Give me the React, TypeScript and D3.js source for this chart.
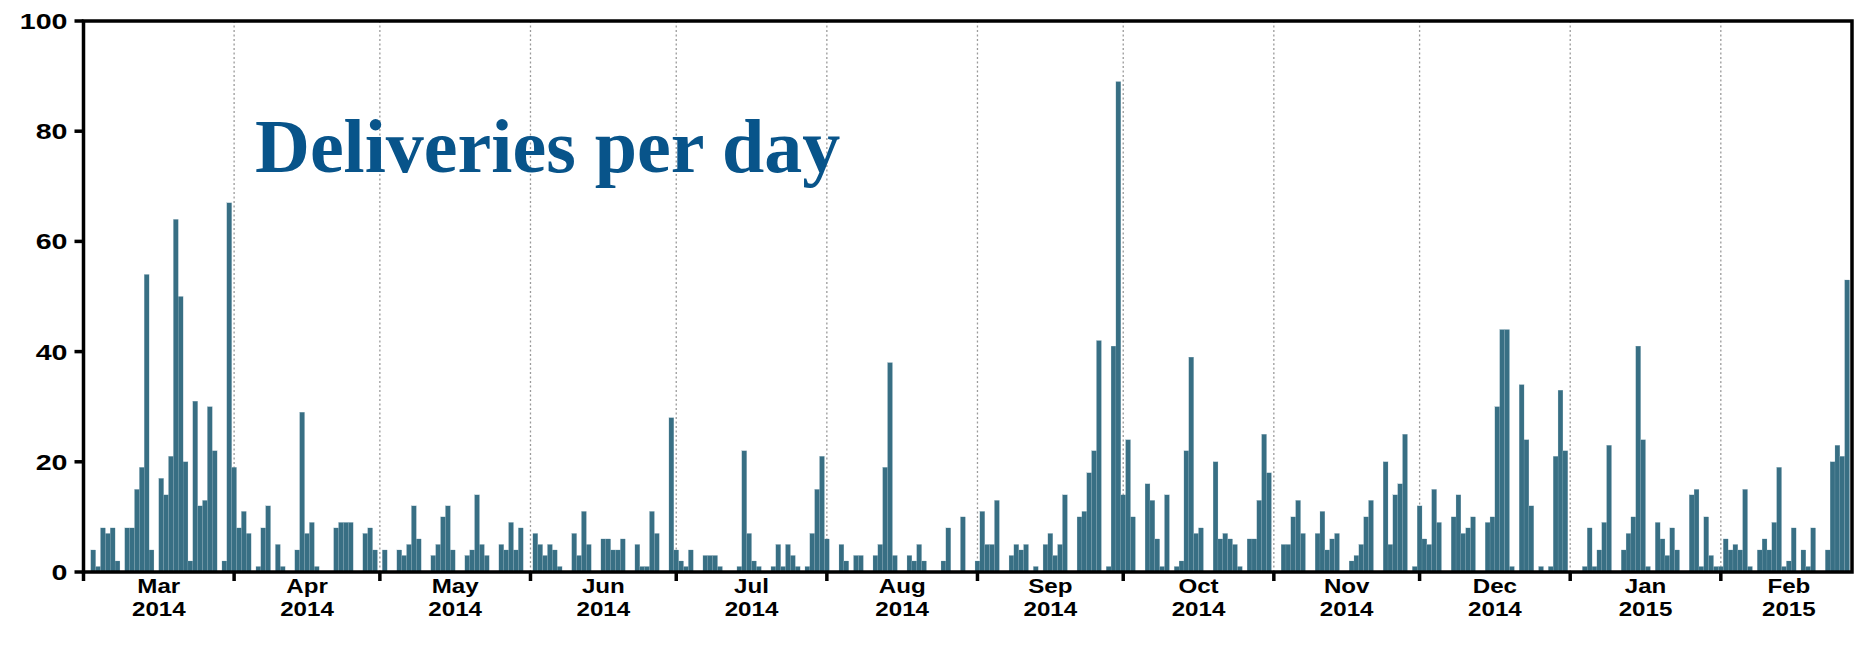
import React, { useRef, useEffect } from "react";
import * as d3 from "d3";

// deliveries per day, one array per month (Mar 2014 .. Feb 2015)
const mar2014 = [0, 0, 4, 1, 8, 7, 8, 2, 0, 8, 8, 15, 19, 54, 4, 0, 17, 14, 21, 64, 50, 20, 2, 31, 12, 13, 30, 22, 0, 2, 67];
const apr2014 = [19, 8, 11, 7, 0, 1, 8, 12, 0, 5, 1, 0, 0, 4, 29, 7, 9, 1, 0, 0, 0, 8, 9, 9, 9, 0, 0, 7, 8, 4];
const may2014 = [0, 4, 0, 0, 4, 3, 5, 12, 6, 0, 0, 3, 5, 10, 12, 4, 0, 0, 3, 4, 14, 5, 3, 0, 0, 5, 4, 9, 4, 8, 0];
const jun2014 = [0, 7, 5, 3, 5, 4, 1, 0, 0, 7, 3, 11, 5, 0, 0, 6, 6, 4, 4, 6, 0, 0, 5, 1, 1, 11, 7, 0, 0, 28];
const jul2014 = [4, 2, 1, 4, 0, 0, 3, 3, 3, 1, 0, 0, 0, 1, 22, 7, 2, 1, 0, 0, 1, 5, 1, 5, 3, 1, 0, 1, 7, 15, 21];
const aug2014 = [6, 0, 0, 5, 2, 0, 3, 3, 0, 0, 3, 5, 19, 38, 3, 0, 0, 3, 2, 5, 2, 0, 0, 0, 2, 8, 0, 0, 10, 0, 0];
const sep2014 = [2, 11, 5, 5, 13, 0, 0, 3, 5, 4, 5, 0, 1, 0, 5, 7, 3, 5, 14, 0, 0, 10, 11, 18, 22, 42, 0, 1, 41, 89];
const oct2014 = [14, 24, 10, 0, 0, 16, 13, 6, 1, 14, 0, 1, 2, 22, 39, 7, 8, 0, 0, 20, 6, 7, 6, 5, 1, 0, 6, 6, 13, 25, 18];
const nov2014 = [0, 0, 5, 5, 10, 13, 7, 0, 0, 7, 11, 4, 6, 7, 0, 0, 2, 3, 5, 10, 13, 0, 0, 20, 5, 14, 16, 25, 0, 1];
const dec2014 = [12, 6, 5, 15, 9, 0, 0, 10, 14, 7, 8, 10, 0, 0, 9, 10, 30, 44, 44, 1, 0, 34, 24, 12, 0, 1, 0, 1, 21, 33, 22];
const jan2015 = [0, 0, 0, 1, 8, 1, 4, 9, 23, 0, 0, 4, 7, 10, 41, 24, 1, 0, 9, 6, 3, 8, 4, 0, 0, 14, 15, 1, 10, 3, 1];
const feb2015 = [1, 6, 4, 5, 4, 15, 1, 0, 4, 6, 4, 9, 19, 1, 2, 8, 0, 4, 1, 8, 0, 0, 4, 20, 23, 21, 53];

const monthNames = ["Mar", "Apr", "May", "Jun", "Jul", "Aug", "Sep", "Oct", "Nov", "Dec", "Jan", "Feb"];
const monthYears = ["2014", "2014", "2014", "2014", "2014", "2014", "2014", "2014", "2014", "2014", "2015", "2015"];
const yTicks = [0, 20, 40, 60, 80, 100];
const title = "Deliveries per day";

const months = [mar2014, apr2014, may2014, jun2014, jul2014, aug2014, sep2014, oct2014, nov2014, dec2014, jan2015, feb2015];

const App = () => {
  const svgRef = useRef(null);

  useEffect(() => {
    const svg = d3.select(svgRef.current);
    svg.selectAll("*").remove();
    const width = 1860;
    const height = 647;
    const margin = { top: 21, right: 8, bottom: 75, left: 83.5 };
    const font = "'Liberation Sans', Arial, sans-serif";

    const start = new Date(Date.UTC(2014, 2, 1));
    const end = new Date(Date.UTC(2015, 1, 28));

    const data = [];
    months.forEach((vals, i) => {
      const m0 = d3.utcMonth.offset(start, i);
      vals.forEach((v, j) => data.push({ date: d3.utcDay.offset(m0, j), count: v }));
    });

    const x = d3.scaleUtc().domain([start, end]).range([margin.left, width - margin.right]);
    const y = d3.scaleLinear().domain([0, 100]).range([height - margin.bottom, margin.top]);
    const dayW = x(d3.utcDay.offset(start, 1)) - x(start);

    svg
      .append("defs")
      .append("clipPath")
      .attr("id", "plotClip")
      .append("rect")
      .attr("x", margin.left)
      .attr("y", margin.top)
      .attr("width", width - margin.left - margin.right)
      .attr("height", height - margin.top - margin.bottom);

    // dotted month gridlines
    const monthStarts = d3.utcMonth.range(d3.utcMonth.offset(start, 1), end);
    svg
      .append("g")
      .selectAll("line")
      .data(monthStarts)
      .enter()
      .append("line")
      .attr("x1", (d) => x(d))
      .attr("x2", (d) => x(d))
      .attr("y1", y(100))
      .attr("y2", y(0))
      .attr("stroke", "#9a9a9a")
      .attr("stroke-width", 1.3)
      .attr("stroke-dasharray", "2,2.5");

    // bars, centred on each day
    svg
      .append("g")
      .attr("clip-path", "url(#plotClip)")
      .selectAll("rect")
      .data(data.filter((d) => d.count > 0))
      .enter()
      .append("rect")
      .attr("x", (d) => x(d.date) - dayW / 2)
      .attr("width", dayW)
      .attr("y", (d) => y(d.count))
      .attr("height", (d) => y(0) - y(d.count))
      .attr("fill", "#386f84")
      .attr("stroke", "#8fb0bd")
      .attr("stroke-width", 0.2);

    // frame
    svg
      .append("rect")
      .attr("x", margin.left)
      .attr("y", margin.top)
      .attr("width", width - margin.left - margin.right)
      .attr("height", height - margin.top - margin.bottom)
      .attr("fill", "none")
      .attr("stroke", "#000")
      .attr("stroke-width", 3.5);

    // y ticks + labels
    const yAxis = svg.append("g");
    yAxis
      .selectAll("line")
      .data(yTicks)
      .enter()
      .append("line")
      .attr("x1", margin.left - 9)
      .attr("x2", margin.left)
      .attr("y1", (d) => y(d))
      .attr("y2", (d) => y(d))
      .attr("stroke", "#000")
      .attr("stroke-width", 3.5);
    yAxis
      .selectAll("text")
      .data(yTicks)
      .enter()
      .append("text")
      .attr("transform", (d) => `translate(${margin.left - 16},${y(d)}) scale(1.3,1)`)
      .attr("dy", "0.36em")
      .attr("text-anchor", "end")
      .style("font-family", font)
      .style("font-weight", "bold")
      .style("font-size", "22px")
      .text((d) => d);

    // x ticks at month boundaries, labels mid-month
    const xAxis = svg.append("g");
    xAxis
      .selectAll("line")
      .data([start, ...monthStarts])
      .enter()
      .append("line")
      .attr("x1", (d) => x(d))
      .attr("x2", (d) => x(d))
      .attr("y1", y(0))
      .attr("y2", y(0) + 9)
      .attr("stroke", "#000")
      .attr("stroke-width", 3.5);

    const mids = monthNames.map((m, i) => {
      const a = d3.utcMonth.offset(start, i);
      const b = d3.utcMonth.offset(start, i + 1);
      return new Date((+a + +b) / 2);
    });
    const labels = xAxis
      .selectAll("text")
      .data(mids)
      .enter()
      .append("text")
      .attr("transform", (d) => `translate(${x(d)},0) scale(1.15,1)`)
      .attr("text-anchor", "middle")
      .style("font-family", font)
      .style("font-weight", "bold")
      .style("font-size", "21px");
    labels
      .append("tspan")
      .attr("x", 0)
      .attr("y", y(0) + 21)
      .text((d, i) => monthNames[i]);
    labels
      .append("tspan")
      .attr("x", 0)
      .attr("y", y(0) + 44)
      .text((d, i) => monthYears[i]);

    // title
    svg
      .append("text")
      .attr("x", 255)
      .attr("y", 172)
      .style("font-family", "'Liberation Serif', 'Times New Roman', serif")
      .style("font-weight", "bold")
      .style("font-size", "76px")
      .attr("fill", "#08548a")
      .text(title);
  }, []);

  return <svg ref={svgRef} width={1860} height={647} style={{ position: "absolute", left: 0, top: 0, background: "#fff" }}></svg>;
};

export default App;
